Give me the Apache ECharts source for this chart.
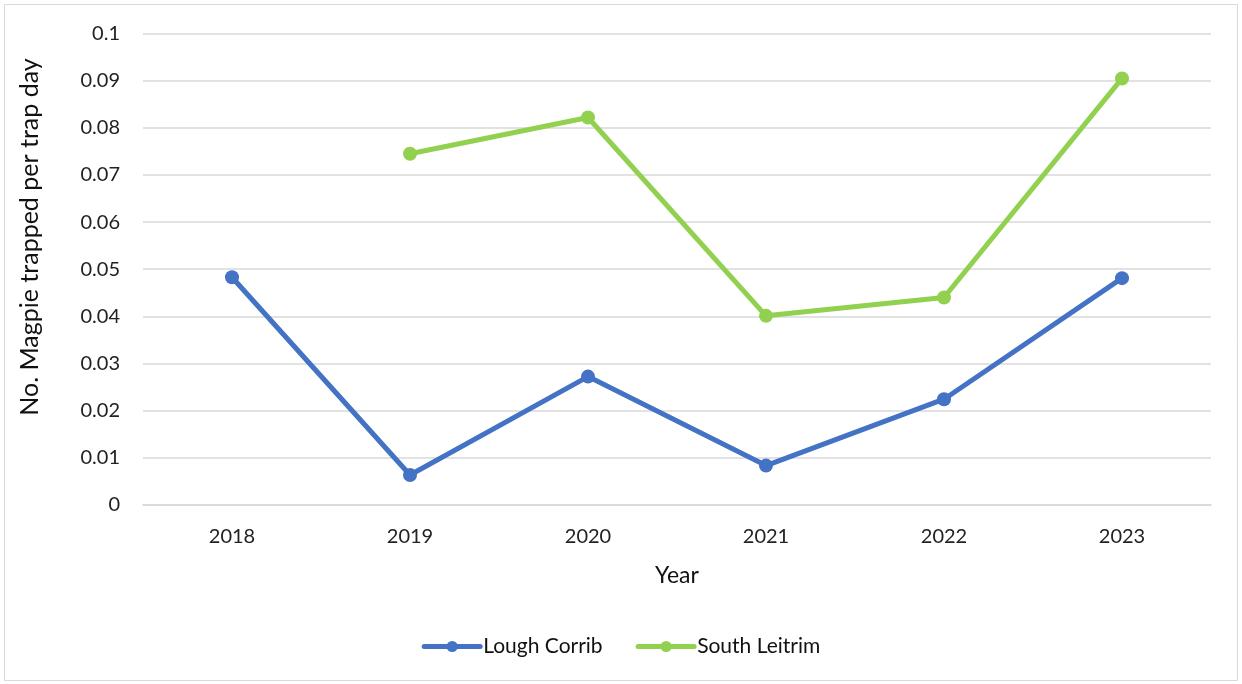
<!DOCTYPE html>
<html>
<head>
<meta charset="utf-8">
<script src="https://cdn.jsdelivr.net/npm/echarts@6/dist/echarts.min.js"></script>
<style>
html,body{margin:0;padding:0;background:#fff;}
#c{width:1242px;height:684px;}
</style>
</head>
<body>
<div id="c"></div>
<script>
const years = ['2018','2019','2020','2021','2022','2023'];
const loughCorrib = [0.0483, 0.0063, 0.0272, 0.0083, 0.0224, 0.0481];
const southLeitrim = [null, 0.0745, 0.0822, 0.0401, 0.0440, 0.0905];
const seriesNames = ['Lough Corrib', 'South Leitrim'];
const yAxisTitle = 'No. Magpie trapped per trap day';
const xAxisTitle = 'Year';

const FONT = 'Lato';
const chart = echarts.init(document.getElementById('c'));
chart.setOption({
  animation: false,
  backgroundColor: '#fff',
  textStyle: { fontFamily: FONT },
  grid: { left: 143, right: 31, top: 33.7, bottom: 179.3 },
  graphic: [
    { type: 'rect', shape: { x: 4.5, y: 4.5, width: 1233, height: 676 },
      style: { fill: 'none', stroke: '#d9d9d9', lineWidth: 1 }, silent: true },
    { type: 'text', x: 30, y: 237, rotation: Math.PI / 2,
      style: { text: yAxisTitle, font: '25px ' + FONT, fill: '#111',
        align: 'center', verticalAlign: 'middle' } }
  ],
  legend: {
    bottom: 22, left: 'center',
    itemWidth: 56, itemHeight: 14, itemGap: 33,
    lineStyle: { width: 5 },
    textStyle: { fontSize: 21, color: '#111', fontFamily: FONT, padding: [0, 0, 0, -2] },
    data: seriesNames
  },
  xAxis: {
    type: 'category', data: years, boundaryGap: true,
    name: xAxisTitle, nameLocation: 'middle', nameGap: 59,
    nameTextStyle: { fontSize: 23, color: '#111', fontFamily: FONT },
    axisLine: { show: true, lineStyle: { color: '#d9d9d9', width: 1.5 } },
    axisTick: { show: false },
    axisLabel: { fontSize: 20, color: '#222', margin: 22, fontFamily: FONT }
  },
  yAxis: {
    type: 'value', min: 0, max: 0.1, interval: 0.01,
    axisLine: { show: false }, axisTick: { show: false },
    axisLabel: { fontSize: 20, color: '#222', margin: 23, fontFamily: FONT,
      formatter: v => String(parseFloat(v.toFixed(2))) },
    splitLine: { lineStyle: { color: '#d9d9d9', width: 1.5 } }
  },
  series: [
    { name: seriesNames[0], type: 'line', data: loughCorrib, connectNulls: false,
      symbol: 'circle', symbolSize: 14,
      lineStyle: { color: '#4472C4', width: 5, cap: 'round' },
      itemStyle: { color: '#4472C4' } },
    { name: seriesNames[1], type: 'line', data: southLeitrim, connectNulls: false,
      symbol: 'circle', symbolSize: 14,
      lineStyle: { color: '#92D050', width: 5, cap: 'round' },
      itemStyle: { color: '#92D050' } }
  ]
});
</script>
</body>
</html>
